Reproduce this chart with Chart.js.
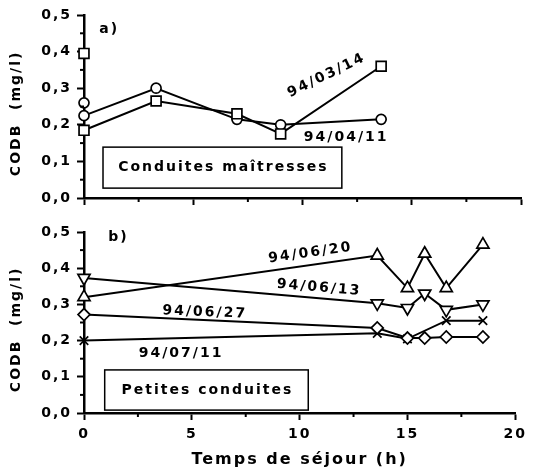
<!DOCTYPE html>
<html>
<head>
<meta charset="utf-8">
<script src="https://cdn.jsdelivr.net/npm/chart.js@4/dist/chart.umd.min.js"></script>
<style>
  body { margin: 0; background: #fff; }
  #wrap { position: relative; width: 533px; height: 472px; }
  canvas { position: absolute; left: 0; }
  #top { top: 0; }
  #bot { top: 215px; }
</style>
</head>
<body>
<div id="wrap">
  <canvas id="top" width="533" height="215"></canvas>
  <canvas id="bot" width="533" height="257"></canvas>
</div>
<script>
// tick labels
const xTicks = ['0', '5', '10', '15', '20'];
const yTicks = ['0,0', '0,1', '0,2', '0,3', '0,4', '0,5'];

// a) conduites maitresses
const hoursA = [0, 3.3, 7, 9, 13.6];
const codb940314 = [0.185, 0.265, 0.23, 0.175, 0.36];
const codb940411 = [0.225, 0.30, 0.215, 0.20, 0.215];
// extra replicate at t = 0
const rep940314 = [0.395];
const rep940411 = [0.26];

// b) petites conduites
const hoursB = [0, 13.6, 15, 15.8, 16.8, 18.5];
const codb940620 = [0.32, 0.435, 0.345, 0.44, 0.345, 0.465];
const codb940613 = [0.373, 0.303, 0.29, 0.33, 0.285, 0.30];
const codb940627 = [0.272, 0.235, 0.207, 0.207, 0.21, 0.21];
const codb940711 = [0.20, 0.22, 0.205, null, 0.255, 0.255];

const FONT = "'DejaVu Sans', Verdana, sans-serif";
Chart.defaults.font.family = FONT;
Chart.defaults.font.weight = 'bold';
Chart.defaults.color = '#000';

const pts = (xs, ys) => xs.map((x, i) => ({ x: x, y: ys[i] }));

function serie(xs, ys, style, radius, rot, line) {
  return {
    data: pts(xs, ys),
    showLine: line !== false,
    spanGaps: true,
    borderColor: '#000',
    borderWidth: 2,
    pointStyle: style,
    pointRadius: radius,
    pointRotation: rot || 0,
    pointBorderWidth: 1.7,
    pointBackgroundColor: '#fff',
    pointBorderColor: '#000',
    clip: false
  };
}

// letter spacing like the old plotter font
const spacing = {
  id: 'spacing',
  beforeUpdate(chart) { chart.ctx.letterSpacing = '2px'; },
  beforeDraw(chart) { chart.ctx.letterSpacing = '2px'; }
};

// minor ticks + notes + boxed title
const extras = {
  id: 'extras',
  afterDatasetsDraw(chart, args, opts) {
    const ctx = chart.ctx;
    const xs = chart.scales.x, ys = chart.scales.y;
    ctx.save();
    ctx.strokeStyle = '#000';
    ctx.lineWidth = 2;
    [2.5, 7.5, 12.5, 17.5].forEach(v => {
      const px = xs.getPixelForValue(v);
      ctx.beginPath(); ctx.moveTo(px, ys.bottom); ctx.lineTo(px, ys.bottom + 4); ctx.stroke();
    });
    [0.05, 0.15, 0.25, 0.35, 0.45].forEach(v => {
      const py = ys.getPixelForValue(v);
      ctx.beginPath(); ctx.moveTo(xs.left, py); ctx.lineTo(xs.left - 4, py); ctx.stroke();
    });

    ctx.letterSpacing = '2px';
    ctx.font = 'bold 14px ' + FONT;
    ctx.fillStyle = '#000';
    ctx.textAlign = 'center';
    ctx.textBaseline = 'middle';

    const b = opts.box;
    const bx0 = xs.getPixelForValue(b.x0), bx1 = xs.getPixelForValue(b.x1);
    const by0 = ys.getPixelForValue(b.y1), by1 = ys.getPixelForValue(b.y0);
    ctx.fillStyle = '#fff';
    ctx.fillRect(bx0, by0, bx1 - bx0, by1 - by0);
    ctx.lineWidth = 1.5;
    ctx.strokeRect(bx0, by0, bx1 - bx0, by1 - by0);
    ctx.fillStyle = '#000';
    ctx.fillText(b.t, (bx0 + bx1) / 2 + 1, (by0 + by1) / 2);

    opts.notes.forEach(n => {
      ctx.save();
      ctx.translate(xs.getPixelForValue(n.x), ys.getPixelForValue(n.y));
      ctx.rotate((n.rot || 0) * Math.PI / 180);
      ctx.fillText(n.t, 0, 0);
      ctx.restore();
    });
    ctx.restore();
  }
};

function panel(id, datasets, showX, xHeight, padTop, notes, box) {
  return new Chart(document.getElementById(id), {
    type: 'line',
    data: { datasets: datasets },
    plugins: [spacing, extras],
    options: {
      responsive: false,
      animation: false,
      layout: { padding: { left: 0, right: 12, top: padTop, bottom: 0 } },
      plugins: {
        legend: { display: false },
        tooltip: { enabled: false },
        extras: { notes: notes, box: box }
      },
      scales: {
        x: {
          type: 'linear', min: 0, max: 20,
          ticks: {
            display: showX, stepSize: 5, padding: 6,
            font: { size: 14, weight: 'bold' }, color: '#000',
            callback: v => xTicks[Math.round(v / 5)]
          },
          grid: { drawOnChartArea: false, tickLength: 7, tickWidth: 2, tickColor: '#000' },
          border: { color: '#000', width: 2.5 },
          title: {
            display: showX, text: 'Temps de séjour (h)', color: '#000',
            font: { size: 16, weight: 'bold' }, padding: { top: 0, bottom: 3 }
          },
          afterFit: s => { s.height = xHeight; }
        },
        y: {
          min: 0, max: 0.5,
          ticks: {
            stepSize: 0.1, padding: 5,
            font: { size: 14, weight: 'bold' }, color: '#000',
            callback: v => yTicks[Math.round(v * 10)]
          },
          grid: { drawOnChartArea: false, tickLength: 7, tickWidth: 2, tickColor: '#000' },
          border: { color: '#000', width: 2.5 },
          title: {
            display: true, text: 'CODB  (mg/l)  ', color: '#000',
            font: { size: 14, weight: 'bold' }, padding: { top: 8, bottom: 0 }
          },
          afterFit: s => { s.width = 84; }
        }
      }
    }
  });
}

panel('top', [
  serie(hoursA, codb940314, 'rect', 7),
  serie(hoursA, codb940411, 'circle', 5),
  serie([0], rep940314, 'rect', 7, 0, false),
  serie([0], rep940411, 'circle', 5, 0, false)
], false, 17, 15, [
  { t: 'a)', x: 1.15, y: 0.46 },
  { t: '94/03/14', x: 11.1, y: 0.335, rot: -26 },
  { t: '94/04/11', x: 12.0, y: 0.165 }
], { t: 'Conduites maîtresses', x0: 0.87, x1: 11.8, y0: 0.027, y1: 0.139 });

panel('bot', [
  serie(hoursB, codb940620, 'triangle', 7),
  serie(hoursB, codb940613, 'triangle', 7, 180),
  serie(hoursB, codb940627, 'rectRot', 6),
  serie(hoursB, codb940711, 'crossRot', 6)
], true, 59, 17, [
  { t: 'b)', x: 1.6, y: 0.486 },
  { t: '94/06/20', x: 10.5, y: 0.442, rot: -8 },
  { t: '94/06/13', x: 10.9, y: 0.346, rot: 5 },
  { t: '94/06/27', x: 5.6, y: 0.278, rot: 2.5 },
  { t: '94/07/11', x: 4.5, y: 0.166 }
], { t: 'Petites conduites', x0: 0.96, x1: 10.4, y0: 0.008, y1: 0.119 });
</script>
</body>
</html>
